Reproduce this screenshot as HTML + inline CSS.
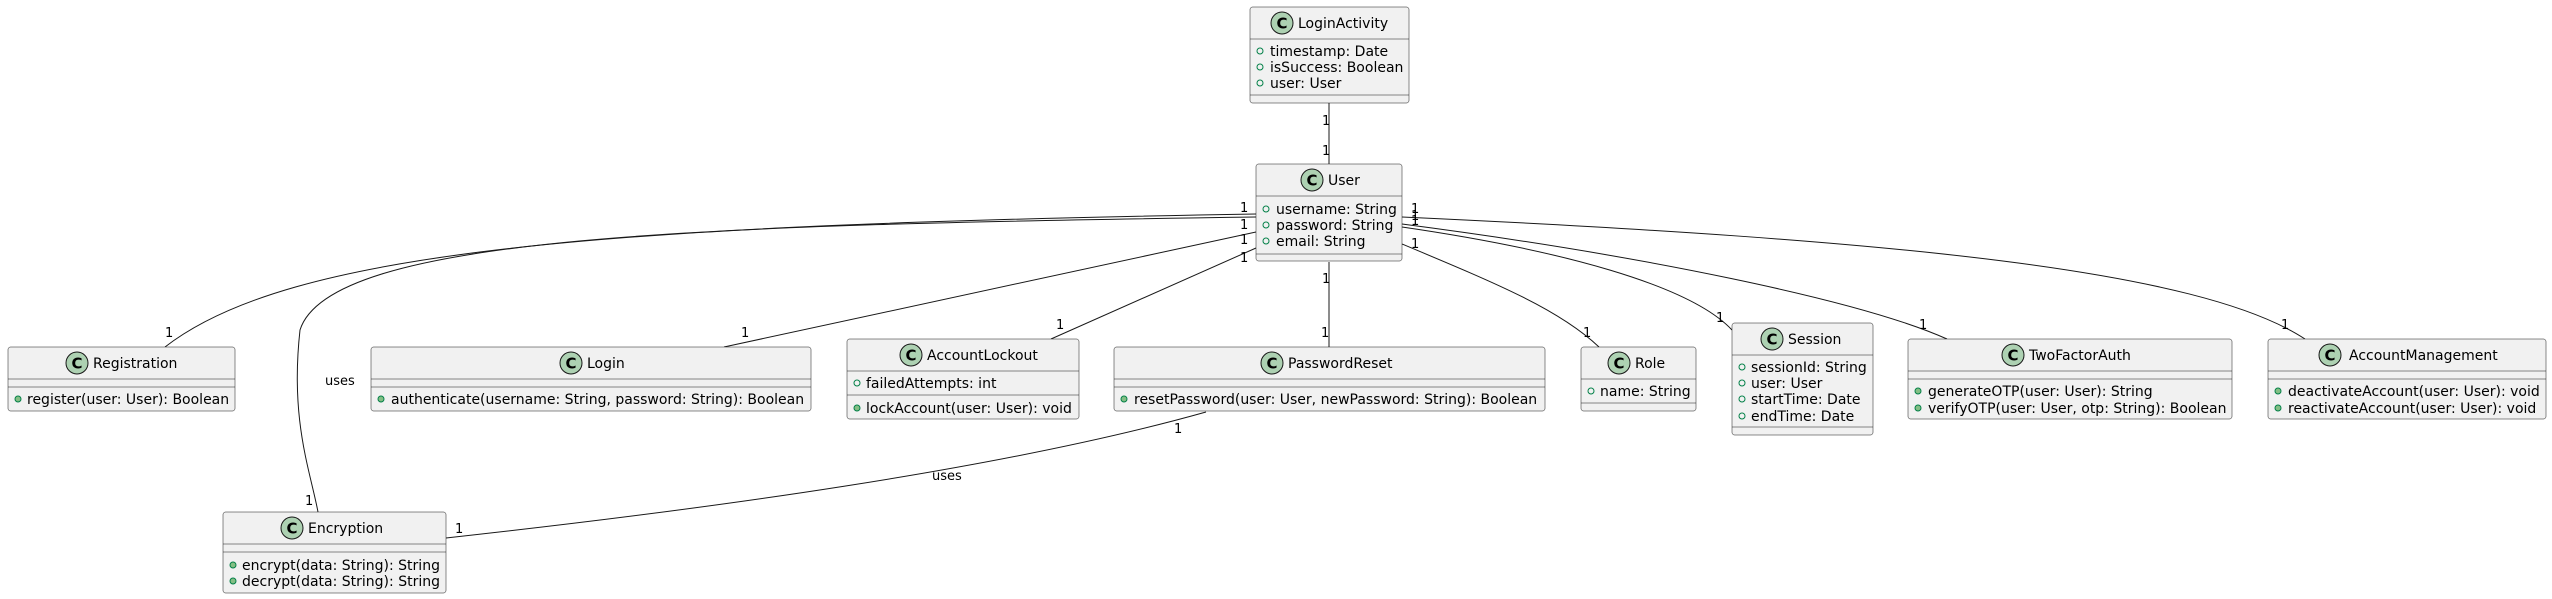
<!DOCTYPE html>
<html><head><meta charset="utf-8"><style>
html,body{margin:0;padding:0;background:#fff;}
svg{display:block;}
text{font-family:"DejaVu Sans","Liberation Sans",sans-serif;font-size:14px;fill:#000;}
.bx{fill:#F1F1F1;stroke:#181818;stroke-width:0.5;}
.sep{stroke:#181818;stroke-width:0.5;}
.ic{fill:#ADD1B2;stroke:#181818;stroke-width:1;}
.c{font-weight:bold;font-size:15px;}
.a{fill:none;stroke:#038048;stroke-width:1;}
.m{fill:#84BE84;stroke:#038048;stroke-width:1;}
.ln{fill:none;stroke:#181818;stroke-width:1;}
.l{font-size:13px;}
</style></head><body>
<svg width="2552" height="599" viewBox="0 0 2552 599" xmlns="http://www.w3.org/2000/svg">
<!-- connectors -->
<path class="ln" d="M1329,103 L1329,164"/>
<path class="ln" d="M1329,262 L1329,347"/>
<path class="ln" d="M1256,214 C600,225 290,250 165,347"/>
<path class="ln" d="M1256,217 C700,225 330,235 300,330 C290,420 310,470 318,512"/>
<path class="ln" d="M1256,232 L724,347"/>
<path class="ln" d="M1256,248 L1051,339"/>
<path class="ln" d="M1402,244 C1500,285 1560,310 1599,347"/>
<path class="ln" d="M1402,227 C1560,250 1690,285 1732,330"/>
<path class="ln" d="M1402,224 C1640,255 1860,300 1947,339"/>
<path class="ln" d="M1402,217 C1900,240 2200,270 2305,339"/>
<path class="ln" d="M1206,412 C1000,470 700,510 446,538"/>
<!-- labels -->
<text class="l" x="1322" y="125">1</text>
<text class="l" x="1322" y="155">1</text>
<text class="l" x="1322" y="283">1</text>
<text class="l" x="1321" y="337">1</text>
<text class="l" x="1240" y="212">1</text>
<text class="l" x="1240" y="229">1</text>
<text class="l" x="1240" y="244">1</text>
<text class="l" x="1240" y="262">1</text>
<text class="l" x="1411" y="213">1</text>
<text class="l" x="1411" y="220">1</text>
<text class="l" x="1411" y="225">1</text>
<text class="l" x="1411" y="248">1</text>
<text class="l" x="165" y="337">1</text>
<text class="l" x="741" y="337">1</text>
<text class="l" x="1056" y="329">1</text>
<text class="l" x="1583" y="337">1</text>
<text class="l" x="1716" y="322">1</text>
<text class="l" x="1919" y="329">1</text>
<text class="l" x="2281" y="329">1</text>
<text class="l" x="305" y="505">1</text>
<text class="l" x="455" y="533">1</text>
<text class="l" x="1174" y="433">1</text>
<text class="l" x="325" y="385">uses</text>
<text class="l" x="932" y="480">uses</text>

<!-- LoginActivity -->
<rect class="bx" x="1250" y="7" width="159" height="96" rx="2.5"/>
<circle class="ic" cx="1282" cy="23" r="11"/><text class="c" x="1276.5" y="28.5">C</text>
<text x="1298" y="28">LoginActivity</text>
<line class="sep" x1="1250" y1="39" x2="1409" y2="39"/>
<circle class="a" cx="1260" cy="51" r="3"/><text x="1270" y="56">timestamp: Date</text>
<circle class="a" cx="1260" cy="67" r="3"/><text x="1270" y="72">isSuccess: Boolean</text>
<circle class="a" cx="1260" cy="83" r="3"/><text x="1270" y="88">user: User</text>
<line class="sep" x1="1250" y1="95" x2="1409" y2="95"/>

<!-- User -->
<rect class="bx" x="1256" y="164" width="146" height="97" rx="2.5"/>
<circle class="ic" cx="1312" cy="180" r="11"/><text class="c" x="1306.5" y="185.5">C</text>
<text x="1328" y="185">User</text>
<line class="sep" x1="1256" y1="196" x2="1402" y2="196"/>
<circle class="a" cx="1266" cy="209" r="3"/><text x="1276" y="214">username: String</text>
<circle class="a" cx="1266" cy="225" r="3"/><text x="1276" y="230">password: String</text>
<circle class="a" cx="1266" cy="241" r="3"/><text x="1276" y="246">email: String</text>
<line class="sep" x1="1256" y1="254" x2="1402" y2="254"/>

<!-- Registration -->
<rect class="bx" x="8" y="347" width="227" height="64" rx="2.5"/>
<circle class="ic" cx="77" cy="363" r="11"/><text class="c" x="71.5" y="368.5">C</text>
<text x="93" y="368">Registration</text>
<line class="sep" x1="8" y1="379" x2="235" y2="379"/>
<line class="sep" x1="8" y1="387" x2="235" y2="387"/>
<circle class="m" cx="18" cy="399" r="3"/><text x="27" y="404">register(user: User): Boolean</text>

<!-- Login -->
<rect class="bx" x="371" y="347" width="440" height="64" rx="2.5"/>
<circle class="ic" cx="571" cy="363" r="11"/><text class="c" x="565.5" y="368.5">C</text>
<text x="587" y="368">Login</text>
<line class="sep" x1="371" y1="379" x2="811" y2="379"/>
<line class="sep" x1="371" y1="387" x2="811" y2="387"/>
<circle class="m" cx="381" cy="399" r="3"/><text x="391" y="404">authenticate(username: String, password: String): Boolean</text>

<!-- AccountLockout -->
<rect class="bx" x="847" y="339" width="232" height="80" rx="2.5"/>
<circle class="ic" cx="911" cy="355" r="11"/><text class="c" x="905.5" y="360.5">C</text>
<text x="927" y="360">AccountLockout</text>
<line class="sep" x1="847" y1="371" x2="1079" y2="371"/>
<circle class="a" cx="857" cy="383" r="3"/><text x="866" y="388">failedAttempts: int</text>
<line class="sep" x1="847" y1="395" x2="1079" y2="395"/>
<circle class="m" cx="857" cy="408" r="3"/><text x="866" y="413">lockAccount(user: User): void</text>

<!-- PasswordReset -->
<rect class="bx" x="1114" y="347" width="431" height="64" rx="2.5"/>
<circle class="ic" cx="1272" cy="363" r="11"/><text class="c" x="1266.5" y="368.5">C</text>
<text x="1288" y="368">PasswordReset</text>
<line class="sep" x1="1114" y1="379" x2="1545" y2="379"/>
<line class="sep" x1="1114" y1="387" x2="1545" y2="387"/>
<circle class="m" cx="1124" cy="399" r="3"/><text x="1134" y="404">resetPassword(user: User, newPassword: String): Boolean</text>

<!-- Role -->
<rect class="bx" x="1581" y="347" width="115" height="64" rx="2.5"/>
<circle class="ic" cx="1619" cy="363" r="11"/><text class="c" x="1613.5" y="368.5">C</text>
<text x="1635" y="368">Role</text>
<line class="sep" x1="1581" y1="379" x2="1696" y2="379"/>
<circle class="a" cx="1591" cy="391" r="3"/><text x="1600" y="396">name: String</text>
<line class="sep" x1="1581" y1="403" x2="1696" y2="403"/>

<!-- Session -->
<rect class="bx" x="1732" y="323" width="141" height="112" rx="2.5"/>
<circle class="ic" cx="1772" cy="339" r="11"/><text class="c" x="1766.5" y="344.5">C</text>
<text x="1788" y="344">Session</text>
<line class="sep" x1="1732" y1="355" x2="1873" y2="355"/>
<circle class="a" cx="1742" cy="367" r="3"/><text x="1751" y="372">sessionId: String</text>
<circle class="a" cx="1742" cy="383" r="3"/><text x="1751" y="388">user: User</text>
<circle class="a" cx="1742" cy="399" r="3"/><text x="1751" y="404">startTime: Date</text>
<circle class="a" cx="1742" cy="416" r="3"/><text x="1751" y="421">endTime: Date</text>
<line class="sep" x1="1732" y1="427" x2="1873" y2="427"/>

<!-- TwoFactorAuth -->
<rect class="bx" x="1908" y="339" width="324" height="80" rx="2.5"/>
<circle class="ic" cx="2013" cy="355" r="11"/><text class="c" x="2007.5" y="360.5">C</text>
<text x="2029" y="360">TwoFactorAuth</text>
<line class="sep" x1="1908" y1="371" x2="2232" y2="371"/>
<line class="sep" x1="1908" y1="379" x2="2232" y2="379"/>
<circle class="m" cx="1918" cy="391" r="3"/><text x="1928" y="396">generateOTP(user: User): String</text>
<circle class="m" cx="1918" cy="408" r="3"/><text x="1928" y="413">verifyOTP(user: User, otp: String): Boolean</text>

<!-- AccountManagement -->
<rect class="bx" x="2268" y="339" width="278" height="80" rx="2.5"/>
<circle class="ic" cx="2330" cy="355" r="11"/><text class="c" x="2324.5" y="360.5">C</text>
<text x="2349" y="360">AccountManagement</text>
<line class="sep" x1="2268" y1="371" x2="2546" y2="371"/>
<line class="sep" x1="2268" y1="379" x2="2546" y2="379"/>
<circle class="m" cx="2278" cy="391" r="3"/><text x="2288" y="396">deactivateAccount(user: User): void</text>
<circle class="m" cx="2278" cy="408" r="3"/><text x="2288" y="413">reactivateAccount(user: User): void</text>

<!-- Encryption -->
<rect class="bx" x="223" y="512" width="223" height="81" rx="2.5"/>
<circle class="ic" cx="292" cy="528" r="11"/><text class="c" x="286.5" y="533.5">C</text>
<text x="308" y="533">Encryption</text>
<line class="sep" x1="223" y1="544" x2="446" y2="544"/>
<line class="sep" x1="223" y1="552" x2="446" y2="552"/>
<circle class="m" cx="233" cy="565" r="3"/><text x="242" y="570">encrypt(data: String): String</text>
<circle class="m" cx="233" cy="581" r="3"/><text x="242" y="586">decrypt(data: String): String</text>
</svg>
</body></html>
